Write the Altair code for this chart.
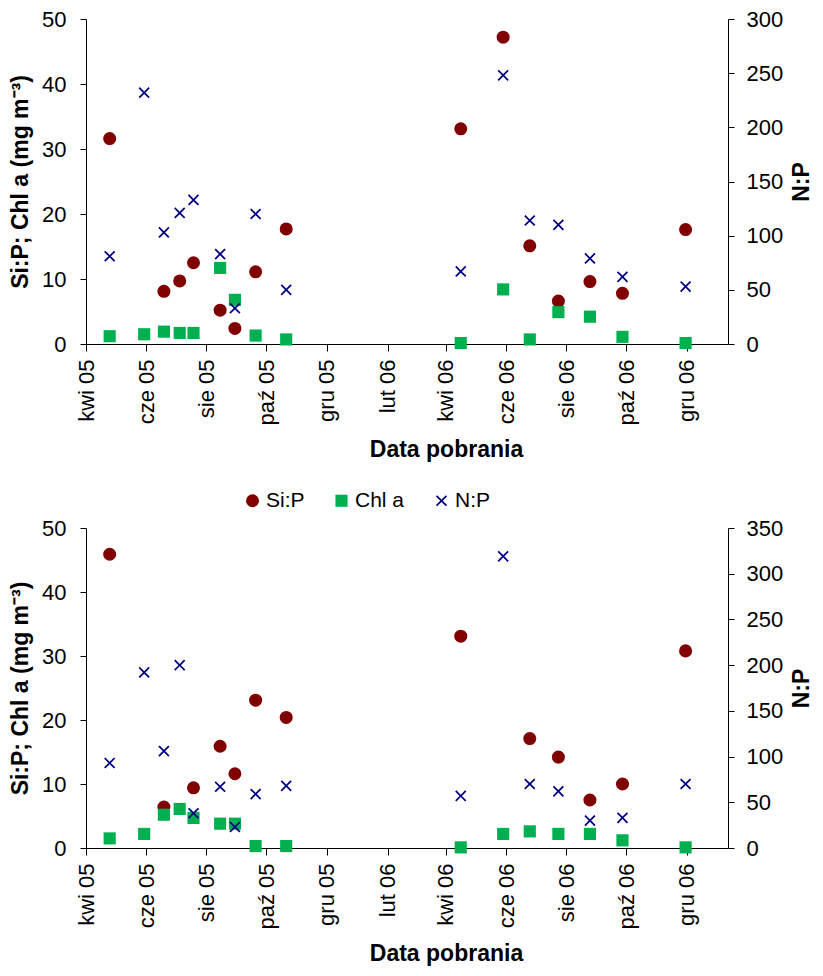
import altair as alt
import pandas as pd

# sampling dates (shared by both panels)
dates = ["2005-04-25", "2005-05-30", "2005-06-19", "2005-07-05", "2005-07-19",
         "2005-08-15", "2005-08-30", "2005-09-20", "2005-10-21",
         "2006-04-16", "2006-05-29", "2006-06-25", "2006-07-24", "2006-08-25",
         "2006-09-27", "2006-11-30"]

# top panel
si_p_top = [31.6, None, 8.1, 9.7, 12.5, 5.2, 2.4, 11.1, 17.7,
            33.1, 47.2, 15.1, 6.6, 9.6, 7.8, 17.6]
chl_top = [1.2, 1.5, 1.9, 1.7, 1.7, 11.7, 6.8, 1.3, 0.7,
           0.15, 8.4, 0.7, 4.9, 4.2, 1.1, 0.15]
np_top = [81, 232, 103, 121, 133, 83, 33, 120, 50,
          67, 248, 114, 110, 79, 62, 53]

# bottom panel
si_p_bot = [45.9, None, 6.4, None, 9.4, 15.9, 11.6, 23.1, 20.4,
            33.1, None, 17.1, 14.2, 7.5, 10.0, 30.8]
chl_bot = [1.5, 2.2, 5.2, 6.1, 4.7, 3.8, 3.8, 0.3, 0.3,
           0.1, 2.2, 2.6, 2.2, 2.2, 1.2, 0.1]
np_bot = [93, 192, 106, 200, 38, 67, 23, 59, 68,
          57, 319, 70, 62, 30, 33, 70]

series = ["Si:P", "Chl a", "N:P"]
colors = ["#800000", "#00B050", "#000080"]
xpath = ("M-1,-0.78L-0.78,-1L0,-0.22L0.78,-1L1,-0.78L0.22,0L1,0.78L0.78,1"
         "L0,0.22L-0.78,1L-1,0.78L-0.22,0Z")
shapes = ["circle", "square", xpath]
sizes = [170, 125, 150]

tick_months = [(2005, 4), (2005, 6), (2005, 8), (2005, 10), (2005, 12), (2006, 2),
               (2006, 4), (2006, 6), (2006, 8), (2006, 10), (2006, 12)]
month_pl = "['sty','lut','mar','kwi','maj','cze','lip','sie','wrz','paź','lis','gru']"

FONT = "Liberation Sans"


def frames(si, chl, npv):
    rows = []
    for d, v in zip(dates, si):
        rows.append({"date": d + "T00:00", "series": "Si:P", "value": v})
    for d, v in zip(dates, chl):
        rows.append({"date": d + "T00:00", "series": "Chl a", "value": v})
    left = pd.DataFrame(rows)
    right = pd.DataFrame({"date": [d + "T00:00" for d in dates],
                          "series": "N:P", "value": npv})
    return left, right


def panel(si, chl, npv, rmax, height, show_legend):
    left, right = frames(si, chl, npv)
    x = alt.X(
        "date:T",
        scale=alt.Scale(domain=[alt.DateTime(year=2005, month=4, date=1),
                                alt.DateTime(year=2007, month=1, date=12)]),
        axis=alt.Axis(
            values=[alt.DateTime(year=y, month=m, date=1) for y, m in tick_months],
            labelExpr=month_pl + "[month(datum.value)] + ' ' + timeFormat(datum.value, '%y')",
            labelAngle=270, labelPadding=8, tickSize=7,
            title="Data pobrania", titlePadding=13, titleX=360,
        ),
    )
    if show_legend:
        leg = alt.Legend(orient="none", legendX=156, legendY=-38, direction="horizontal",
                         title=None, labelFontSize=21, labelFont=FONT, symbolSize=110,
                         columnPadding=26, labelOffset=3, labelColor="black",
                         symbolStrokeWidth=0)
    else:
        leg = None
    color = alt.Color("series:N", scale=alt.Scale(domain=series, range=colors), legend=leg)
    shape = alt.Shape("series:N", scale=alt.Scale(domain=series, range=shapes), legend=leg)
    size = alt.Size("series:N", scale=alt.Scale(domain=series, range=sizes), legend=None)

    lpts = alt.Chart(left).mark_point(filled=True, opacity=1, strokeWidth=0).encode(
        x=x,
        y=alt.Y("value:Q", scale=alt.Scale(domain=[0, 50], nice=False),
                axis=alt.Axis(orient="left", values=[0, 10, 20, 30, 40, 50],
                              title="Si:P; Chl a (mg m⁻³)", labelPadding=14,
                              titlePadding=9, tickSize=6)),
        color=color, shape=shape, size=size,
    )
    rpts = alt.Chart(right).mark_point(filled=True, opacity=1, strokeWidth=0).encode(
        x=x,
        y=alt.Y("value:Q", scale=alt.Scale(domain=[0, rmax], nice=False),
                axis=alt.Axis(orient="right", values=list(range(0, rmax + 1, 50)),
                              title="N:P", titleAngle=270, titleBaseline="top",
                              labelPadding=12, titlePadding=8, tickSize=6)),
        color=color, shape=shape, size=size,
    )
    return alt.layer(lpts, rpts).resolve_scale(y="independent").properties(
        width=642, height=height)


top = panel(si_p_top, chl_top, np_top, 300, 325, False)
bottom = panel(si_p_bot, chl_bot, np_bot, 350, 320, True)

chart = alt.vconcat(top, bottom, spacing=28).resolve_scale(
    color="independent", shape="independent", size="independent"
).resolve_legend(color="independent", shape="independent").properties(
    padding={"left": 1, "top": 0, "right": 0, "bottom": 0}
).configure_view(stroke=None).configure_axis(
    grid=False, domainColor="black", tickColor="black", labelColor="black",
    titleColor="black", labelFont=FONT, titleFont=FONT, labelFontSize=22,
    titleFontSize=23, titleFontWeight="bold", domainWidth=1, tickWidth=1,
)

chart.save("out.html", embed_options={"renderer": "svg", "actions": False})
